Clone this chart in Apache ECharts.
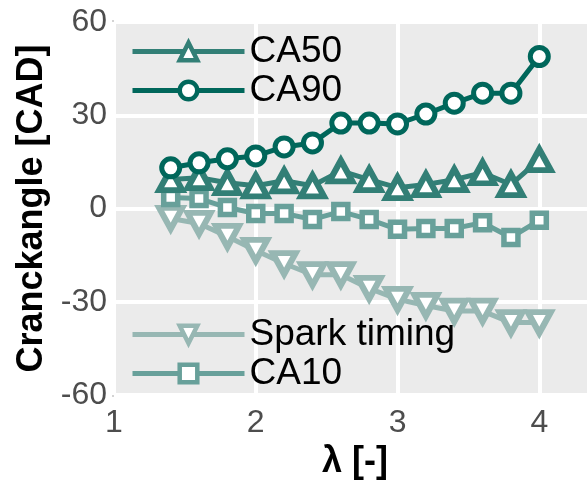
<!DOCTYPE html>
<html>
<head>
<meta charset="utf-8">
<script src="https://cdn.jsdelivr.net/npm/echarts@6/dist/echarts.min.js"></script>
<style>html,body{margin:0;padding:0;background:#fff;}#chart{width:587px;height:487px;}</style>
</head>
<body>
<div id="chart"></div>
<script>
const lambdaValues = [1.4, 1.6, 1.8, 2.0, 2.2, 2.4, 2.6, 2.8, 3.0, 3.2, 3.4, 3.6, 3.8, 4.0];
const sparkTiming = [-3.2, -4.8, -9.0, -13.5, -17.7, -21.3, -21.3, -25.7, -29.2, -31.2, -33.0, -33.0, -36.7, -36.7];
const ca10 = [3.5, 3.2, 0.3, -1.6, -1.6, -3.5, -1.0, -3.5, -6.7, -6.4, -6.4, -4.6, -9.3, -3.8];
const ca50 = [9.3, 9.9, 8.3, 7.3, 8.9, 7.3, 12.1, 9.3, 6.7, 7.7, 9.3, 11.5, 7.7, 15.7];
const ca90 = [13.1, 14.7, 16.0, 16.9, 19.8, 21.1, 27.5, 27.5, 27.2, 30.4, 33.9, 37.1, 37.1, 48.9];
const yTicks = [-60, -30, 0, 30, 60];
const xTicks = [1, 2, 3, 4];

const colors = {
  spark: '#97b7b3',
  ca10: '#68a09a',
  ca50: '#327f76',
  ca90: '#00675b'
};
const pair = (ys) => lambdaValues.map((x, i) => [x, ys[i]]);
const FONT = '"Liberation Sans", Arial, sans-serif';

function mk(name, data, color, symbol, size, bw) {
  return {
    name: name, type: 'line', data: pair(data),
    symbol: symbol, symbolSize: size, showAllSymbol: true,
    lineStyle: {color: color, width: 5},
    itemStyle: {color: '#fff', borderColor: color, borderWidth: bw},
    emphasis: {disabled: true},
    animation: false
  };
}

const legendCommon = {
  orient: 'vertical', left: 125,
  itemWidth: 112, itemHeight: 22, itemGap: 2,
  lineStyle: {width: 5},
  itemStyle: {borderWidth: 4.5},
  textStyle: {fontSize: 37, lineHeight: 28, color: '#000', fontFamily: FONT}
};

const chart = echarts.init(document.getElementById('chart'));
chart.setOption({
  animation: false,
  grid: {
    left: 114, top: 22, width: 482, height: 373,
    outerBoundsMode: 'none', containLabel: false,
    show: true, backgroundColor: '#ebebeb', borderColor: '#d3d3d3', borderWidth: 4
  },
  legend: [
    Object.assign({data: ['CA50', 'CA90'], top: 28}, legendCommon),
    Object.assign({data: ['Spark timing', 'CA10'], top: 311}, legendCommon)
  ],
  xAxis: {
    type: 'value', min: 1, max: 4.4, interval: 1,
    name: 'λ [-]', nameLocation: 'middle', nameGap: 46,
    nameTextStyle: {fontSize: 36, fontWeight: 'bold', color: '#000', fontFamily: FONT},
    axisLine: {show: false}, axisTick: {show: false},
    axisLabel: {fontSize: 32, color: '#4d4d4d', fontFamily: FONT, margin: 12,
      formatter: (v) => xTicks.includes(v) ? String(v) : ''},
    splitLine: {show: true, lineStyle: {color: '#fff', width: 4}}
  },
  yAxis: {
    type: 'value', min: -60, max: 60, interval: 30,
    name: 'Cranckangle [CAD]', nameLocation: 'middle', nameGap: 60, nameRotate: 90,
    nameTextStyle: {fontSize: 36, fontWeight: 'bold', color: '#000', fontFamily: FONT},
    axisLine: {show: false}, axisTick: {show: false},
    axisLabel: {fontSize: 32, color: '#4d4d4d', fontFamily: FONT, margin: 7,
      formatter: (v) => yTicks.includes(v) ? String(v) : ''},
    splitLine: {show: true, lineStyle: {color: '#fff', width: 4}}
  },
  series: [
    mk('Spark timing', sparkTiming, colors.spark, 'path://M0,0 L2,0 L1,1.8 Z', [23, 21], 6),
    mk('CA10', ca10, colors.ca10, 'rect', 14, 5.5),
    mk('CA50', ca50, colors.ca50, 'triangle', [23, 21], 6),
    mk('CA90', ca90, colors.ca90, 'circle', 18, 5)
  ]
});
</script>
</body>
</html>
